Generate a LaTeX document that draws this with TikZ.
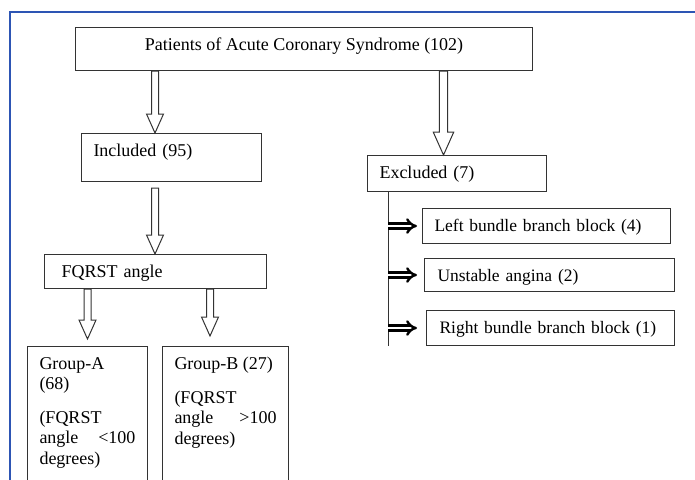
\documentclass[tikz,border=0pt]{standalone}
\usepackage{fontspec}
\setmainfont{Liberation Serif}
\usetikzlibrary{arrows.meta,calc}
\definecolor{frameblue}{RGB}{45,85,180}
\tikzset{
  box/.style={draw=black!80, line width=1pt, rectangle, anchor=north west, inner ysep=0pt, text height=22.5pt, font=\fontsize{18}{20.5}\selectfont},
  smallbox/.style={box, font=\fontsize{17.5}{20}\selectfont},
  hollow/.style={draw=black!80, line width=1pt, fill=white, line join=miter},
  implies/.style={draw=black, line width=2.4pt, double=white, double distance=2.6pt, -{Implies[scale=1.3]}}
}
% open arrow pointing down, from #2 to #3, #1 scales its width
\newcommand{\hollowdown}[3][1]{%
  \draw[hollow] let \p1=(#2), \p2=(#3) in
    (\x1-#1*3.5pt,\y1) -- (\x1-#1*3.5pt,\y2+#1*19pt) -- (\x1-#1*8.5pt,\y2+#1*19pt) -- (\x1,\y2)
    -- (\x1+#1*8.5pt,\y2+#1*19pt) -- (\x1+#1*3.5pt,\y2+#1*19pt) -- (\x1+#1*3.5pt,\y1) -- cycle;
}
\begin{document}
\begin{tikzpicture}[x=1pt,y=-1pt]
  \useasboundingbox (0,0) rectangle (695,479);
  \clip (0,0) rectangle (695,479);
  \draw[frameblue, line width=1.8pt] (10,490) -- (10,12) -- (700,12);

  \node[box, minimum width=457pt, inner xsep=0pt, text depth=20.5pt] (top) at (75,27) {Patients of Acute Coronary Syndrome (102)};
  \node[box, inner xsep=12pt, text width=156pt, text depth=25.5pt, align=left] (incl) at (81,133) {Included (95)};
  \node[box, inner xsep=12pt, text width=155pt, text depth=13.5pt, align=left] (excl) at (367,155) {Excluded (7)};
  \node[box, inner xsep=17pt, text width=188pt, text depth=11.5pt, align=left] (fqrst) at (44,254) {FQRST angle};

  % reasons for exclusion
  \node[smallbox, inner xsep=12pt, text width=224pt, text depth=12.5pt, align=left] (lbbb) at (422,208) {\mbox{Left bundle branch block (4)}};
  \node[smallbox, inner xsep=13pt, text width=224pt, text depth=10.5pt, align=left] (ua) at (424,258) {\mbox{Unstable angina (2)}};
  \node[smallbox, inner xsep=13pt, text width=222pt, text depth=12.5pt, align=left] (rbbb) at (426,310) {\mbox{Right bundle branch block (1)}};

  % the two groups
  \node[box, inner xsep=12pt, text depth=150pt] (grpA) at (27,346) {\parbox[t]{96pt}{Group-A\\(68)\\[13pt](FQRST\\angle\hfill<100\\degrees)}};
  \node[box, inner xsep=12pt, text depth=150pt] (grpB) at (162,346) {\parbox[t]{102pt}{Group-B (27)\\[13.5pt](FQRST\\angle\hfill>100\\degrees)}};

  \coordinate (a1) at ([xshift=74pt]incl.north west);
  \hollowdown{a1 |- top.south}{a1}
  \coordinate (a2) at ([xshift=111pt]fqrst.north west);
  \hollowdown{$(a2 |- incl.south)+(0,6)$}{a2}
  \coordinate (a3) at ([xshift=76.5pt]excl.north west);
  \hollowdown[1.2]{a3 |- top.south}{a3}
  \coordinate (a4) at ([xshift=60.5pt,yshift=7pt]grpA.north west);
  \hollowdown{a4 |- fqrst.south}{a4}
  \coordinate (a5) at ([xshift=48pt,yshift=10pt]grpB.north west);
  \hollowdown{a5 |- fqrst.south}{a5}

  \coordinate (sp) at ([xshift=21pt]excl.south west);
  \draw[black!80, line width=1pt] (sp) -- (sp |- rbbb.south);
  \draw[implies] (sp |- lbbb.west) -- ([xshift=-5pt]lbbb.west);
  \draw[implies] (sp |- ua.west) -- ([xshift=-7pt]ua.west);
  \draw[implies] (sp |- rbbb.west) -- ([xshift=-9pt]rbbb.west);
\end{tikzpicture}
\end{document}
